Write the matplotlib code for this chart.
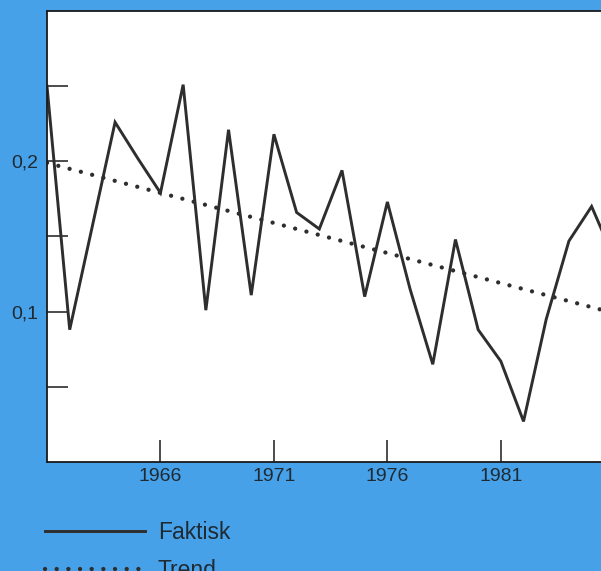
import matplotlib.pyplot as plt

# Yearly values
years = [1961, 1962, 1963, 1964, 1965, 1966, 1967, 1968, 1969, 1970, 1971,
         1972, 1973, 1974, 1975, 1976, 1977, 1978, 1979, 1980, 1981, 1982,
         1983, 1984, 1985, 1986]
faktisk = [0.250, 0.088, 0.157, 0.226, 0.202, 0.179, 0.251, 0.101, 0.221,
           0.111, 0.218, 0.166, 0.155, 0.194, 0.110, 0.173, 0.115, 0.065,
           0.148, 0.088, 0.067, 0.027, 0.095, 0.147, 0.170, 0.135]

# Trend line (straight, two end points)
trend_years = [1961, 1986]
trend_vals = [0.199, 0.099]

x_ticks = [1966, 1971, 1976, 1981]
y_major = [0.1, 0.2]
y_major_labels = ['0,1', '0,2']
y_minor = [0.05, 0.15, 0.25]

bg = '#46a1e8'
ink = '#2e2e2e'

plt.rcParams['font.family'] = ['Liberation Sans', 'DejaVu Sans']

fig = plt.figure(figsize=(6.01, 5.71), dpi=100, facecolor=bg)
ax = fig.add_axes([47 / 601, 109 / 571, 590 / 601, 451 / 571])
ax.set_facecolor('white')

line_f, = ax.plot(years, faktisk, color=ink, lw=2.1, solid_joinstyle='miter',
                  label='Faktisk')
line_t, = ax.plot(trend_years, trend_vals, color=ink, lw=3.1,
                  linestyle=(0, (0.01, 2.7)), dash_capstyle='round',
                  label='Trend')

ax.set_xlim(1961, 1987)
ax.set_ylim(0, 0.3)

ax.set_xticks(x_ticks)
ax.set_xticklabels([str(y) for y in x_ticks])
ax.set_yticks(y_major)
ax.set_yticklabels(y_major_labels)
ax.set_yticks(y_minor, minor=True)

ax.tick_params(axis='x', direction='in', length=16, width=1.2, color=ink,
               labelsize=14, pad=4, labelcolor='#1f2a33')
ax.tick_params(axis='y', which='both', direction='in', length=15, width=1.2,
               color=ink, labelsize=14, pad=6.5, labelcolor='#1f2a33')

for side in ax.spines.values():
    side.set_color('#1a1a1a')
    side.set_linewidth(1.3)

# Legend under the chart
fig.legend(handles=[line_f, line_t], loc='upper left',
           bbox_to_anchor=(45 / 601, 1 - 521 / 571), frameon=False,
           fontsize=16.5, handlelength=4.36, handletextpad=0.57,
           labelspacing=0.65, borderpad=0, borderaxespad=0,
           labelcolor='#1f2a33')

fig.savefig('out.png', dpi=100, facecolor=bg)
